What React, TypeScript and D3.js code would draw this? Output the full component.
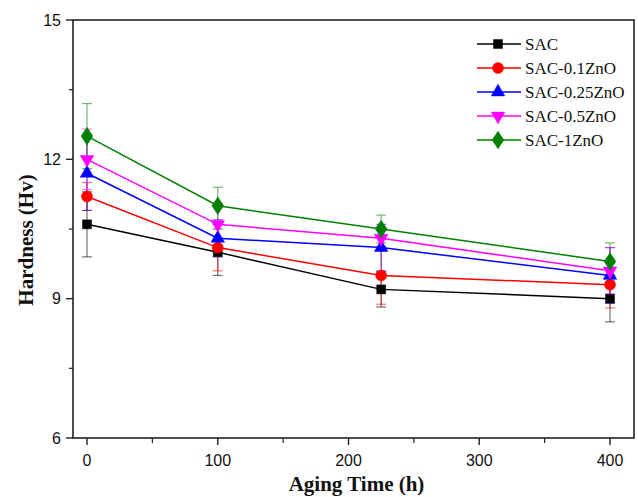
import React from 'react';
import * as d3 from 'd3';

// aging times (h)
const times = [0, 100, 225, 400];

const seriesNames = ['SAC', 'SAC-0.1ZnO', 'SAC-0.25ZnO', 'SAC-0.5ZnO', 'SAC-1ZnO'];
const seriesColors = ['#000000', '#ff0000', '#0000ff', '#ff00ff', '#008000'];
const seriesShapes = ['square', 'circle', 'triangle', 'triangleDown', 'diamond'];

const sacValues = [10.6, 10.0, 9.2, 9.0];
const sac01Values = [11.2, 10.1, 9.5, 9.3];
const sac025Values = [11.7, 10.3, 10.1, 9.5];
const sac05Values = [12.0, 10.6, 10.3, 9.6];
const sac1Values = [12.5, 11.0, 10.5, 9.8];

const sacErr = [0.7, 0.5, 0.38, 0.5];
const sac01Err = [0.3, 0.5, 0.62, 0.5];
const sac025Err = [0.8, 0.4, 0.5, 0.6];
const sac05Err = [0.65, 0.45, 0.25, 0.5];
const sac1Err = [0.7, 0.4, 0.3, 0.4];

const allValues = [sacValues, sac01Values, sac025Values, sac05Values, sac1Values];
const allErrors = [sacErr, sac01Err, sac025Err, sac05Err, sac1Err];

const xTicks = [0, 100, 200, 300, 400];
const xMinor = [50, 150, 250, 350];
const yTicks = [6, 9, 12, 15];
const yMinor = [7.5, 10.5, 13.5];

const width = 638;
const height = 497;
const frame = { left: 73, right: 634, top: 20, bottom: 438 };

const x = d3.scaleLinear().domain([0, 400]).range([87, 610]);
const y = d3.scaleLinear().domain([6, 15]).range([frame.bottom, frame.top]);

const symbolFor = (shape: string) => {
  switch (shape) {
    case 'square': return d3.symbol(d3.symbolSquare, 80)();
    case 'circle': return d3.symbol(d3.symbolCircle, 95)();
    case 'triangle': return d3.symbol(d3.symbolTriangle, 80)();
    case 'triangleDown': return d3.symbol(d3.symbolTriangle, 80)();
    default: return d3.symbol(d3.symbolDiamond, 90)();
  }
};

const Marker = ({ shape, color, cx, cy }: any) => {
  const rot = shape === 'triangleDown' ? 180 : 0;
  const sc = shape === 'diamond' ? 1.15 : 1;
  return (
    <path
      d={symbolFor(shape) || ''}
      transform={`translate(${cx},${cy}) rotate(${rot}) scale(${sc},1)`}
      fill={color}
      stroke={color}
      strokeWidth={0.5}
    />
  );
};

const App = () => {
  const line = d3.line<number>()
    .x((_, i) => x(times[i]))
    .y(d => y(d));

  const sans = '"Liberation Sans", Arial, sans-serif';
  const serif = '"Liberation Serif", "Times New Roman", serif';

  return (
    <svg width={width} height={height} style={{ position: 'absolute', left: 0, top: 0 }}>
      <rect width={width} height={height} fill="#fff" />

      {/* error bars */}
      {allValues.map((vals, s) => (
        <g key={'e' + s} stroke={seriesColors[s]} strokeOpacity={0.55} strokeWidth={1.2}>
          {vals.map((v, i) => {
            const e = allErrors[s][i];
            const cx = x(times[i]);
            return (
              <g key={i}>
                <line x1={cx} x2={cx} y1={y(v - e)} y2={y(v + e)} />
                <line x1={cx - 5} x2={cx + 5} y1={y(v - e)} y2={y(v - e)} />
                <line x1={cx - 5} x2={cx + 5} y1={y(v + e)} y2={y(v + e)} />
              </g>
            );
          })}
        </g>
      ))}

      {/* lines */}
      {allValues.map((vals, s) => (
        <path key={'l' + s} d={line(vals) || ''} fill="none" stroke={seriesColors[s]} strokeWidth={1.5} />
      ))}

      {/* markers */}
      {allValues.map((vals, s) => (
        <g key={'m' + s}>
          {vals.map((v, i) => (
            <Marker key={i} shape={seriesShapes[s]} color={seriesColors[s]} cx={x(times[i])} cy={y(v)} />
          ))}
        </g>
      ))}

      {/* frame */}
      <rect x={frame.left} y={frame.top} width={frame.right - frame.left} height={frame.bottom - frame.top}
        fill="none" stroke="#222" strokeWidth={1.6} />

      {/* y axis ticks */}
      {yTicks.map(t => (
        <g key={'yt' + t}>
          <line x1={frame.left - 7} x2={frame.left} y1={y(t)} y2={y(t)} stroke="#222" strokeWidth={1.4} />
          <text x={frame.left - 12} y={y(t)} dy="0.36em" textAnchor="end" fontFamily={sans} fontSize={16} fill="#111">{t}</text>
        </g>
      ))}
      {yMinor.map(t => (
        <line key={'ym' + t} x1={frame.left - 4} x2={frame.left} y1={y(t)} y2={y(t)} stroke="#222" strokeWidth={1.2} />
      ))}

      {/* x axis ticks */}
      {xTicks.map(t => (
        <g key={'xt' + t}>
          <line x1={x(t)} x2={x(t)} y1={frame.bottom} y2={frame.bottom + 7} stroke="#222" strokeWidth={1.4} />
          <text x={x(t)} y={466} textAnchor="middle" fontFamily={sans} fontSize={16} fill="#111">{t}</text>
        </g>
      ))}
      {xMinor.map(t => (
        <line key={'xm' + t} x1={x(t)} x2={x(t)} y1={frame.bottom} y2={frame.bottom + 5} stroke="#222" strokeWidth={1.2} />
      ))}

      {/* axis titles */}
      <text x={(frame.left + frame.right) / 2 + 3} y={491} textAnchor="middle" fontFamily={serif} fontWeight="bold" fontSize={21} fill="#111">
        Aging Time (h)
      </text>
      <text transform={`translate(33,240) rotate(-90)`} textAnchor="middle" fontFamily={serif} fontWeight="bold" fontSize={21} fill="#111">
        Hardness (Hv)
      </text>

      {/* legend */}
      {seriesNames.map((name, s) => {
        const ly = 44 + s * 24;
        return (
          <g key={'lg' + s}>
            <line x1={477} x2={521} y1={ly} y2={ly} stroke={seriesColors[s]} strokeWidth={1.5} />
            <Marker shape={seriesShapes[s]} color={seriesColors[s]} cx={498} cy={ly} />
            <text x={525} y={ly} dy="0.35em" fontFamily={serif} fontSize={17} fill="#111">{name}</text>
          </g>
        );
      })}
    </svg>
  );
};

export default App;
